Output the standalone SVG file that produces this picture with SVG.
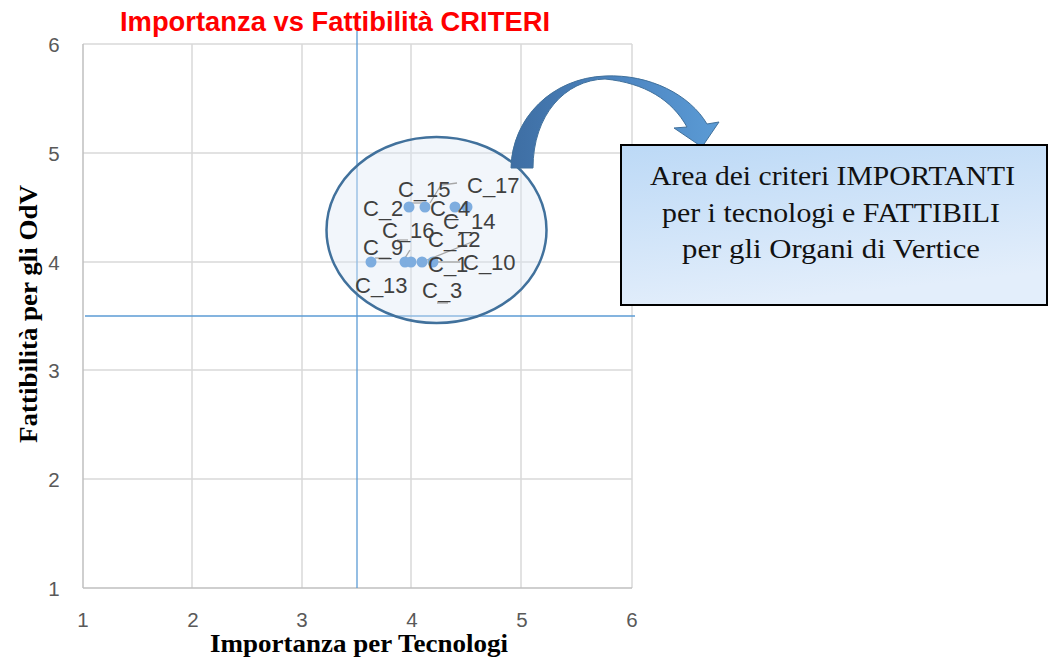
<svg xmlns="http://www.w3.org/2000/svg" width="1051" height="662" viewBox="0 0 1051 662">
<style>
.grid{stroke:#d9d9d9;stroke-width:1.5;fill:none}
.axis{stroke:#bfbfbf;stroke-width:1.5;fill:none}
.tick{font-family:"Liberation Sans",Arial,sans-serif;font-size:20.5px;fill:#595959;text-anchor:middle}
.atitle{font-family:"Liberation Serif","Times New Roman",serif;font-size:26px;font-weight:bold;fill:#000;text-anchor:middle}
.thr{stroke:#5b9bd5;stroke-width:1.3;fill:none}
.pt{fill:#7eaddf}
.lbl{font-family:"Liberation Sans",Arial,sans-serif;font-size:22px;fill:#404040}
.lead{stroke:#a6a6a6;stroke-width:1.3;fill:none}
.box{font-family:"Liberation Serif","Times New Roman",serif;font-size:27px;fill:#111;text-anchor:middle}
</style>
<defs>
<linearGradient id="boxg" x1="0" y1="0" x2="0.3" y2="1">
<stop offset="0" stop-color="#bcd9f6"/>
<stop offset="1" stop-color="#e3eefb"/>
</linearGradient>
<linearGradient id="arrg" x1="0" y1="0" x2="1" y2="0">
<stop offset="0" stop-color="#3e6ea3"/>
<stop offset="0.55" stop-color="#4d86c2"/>
<stop offset="1" stop-color="#5b9bd5"/>
</linearGradient>
</defs>
<rect width="1051" height="662" fill="#ffffff"/>

<g id="title">
<text x="335" y="31" font-family="Liberation Sans,Arial,sans-serif" font-size="27" font-weight="bold" fill="#ff0000" text-anchor="middle" textLength="430" lengthAdjust="spacingAndGlyphs">Importanza vs Fattibilità CRITERI</text>
</g>

<g id="gridlines">
<line class="grid" x1="192" y1="44" x2="192" y2="588"/>
<line class="grid" x1="302" y1="44" x2="302" y2="588"/>
<line class="grid" x1="411" y1="44" x2="411" y2="588"/>
<line class="grid" x1="521" y1="44" x2="521" y2="588"/>
<line class="grid" x1="632" y1="44" x2="632" y2="588"/>
<line class="grid" x1="83" y1="44" x2="632" y2="44"/>
<line class="grid" x1="83" y1="153" x2="632" y2="153"/>
<line class="grid" x1="83" y1="262" x2="632" y2="262"/>
<line class="grid" x1="83" y1="370" x2="632" y2="370"/>
<line class="grid" x1="83" y1="479" x2="632" y2="479"/>
<line class="axis" x1="83" y1="44" x2="83" y2="588"/>
<line class="axis" x1="83" y1="588" x2="632" y2="588"/>
</g>

<g id="ticks">
<text class="tick" x="54" y="51.5">6</text>
<text class="tick" x="54" y="160.5">5</text>
<text class="tick" x="54" y="269.5">4</text>
<text class="tick" x="54" y="377.5">3</text>
<text class="tick" x="54" y="486.5">2</text>
<text class="tick" x="54" y="595.5">1</text>
<text class="tick" x="83" y="627">1</text>
<text class="tick" x="193" y="627">2</text>
<text class="tick" x="302" y="627">3</text>
<text class="tick" x="412" y="627">4</text>
<text class="tick" x="522" y="627">5</text>
<text class="tick" x="632" y="627">6</text>
</g>

<g id="axis-titles">
<text class="atitle" x="359" y="652" textLength="298" lengthAdjust="spacingAndGlyphs">Importanza per Tecnologi</text>
<text class="atitle" transform="translate(37,314) rotate(-90)" x="0" y="0" textLength="258" lengthAdjust="spacingAndGlyphs">Fattibilità per gli OdV</text>
</g>

<g id="thresholds">
<line class="thr" x1="85" y1="316" x2="635" y2="316"/>
<line class="thr" x1="357" y1="31" x2="357" y2="588"/>
</g>

<g id="area-ellipse">
<ellipse cx="436.5" cy="230" rx="110" ry="93" fill="#dfe9f6" fill-opacity="0.4" stroke="#41719c" stroke-width="2.5"/>
</g>

<g id="connectors">
<polyline class="lead" points="430,203 441,185 457,183"/>
<line class="lead" x1="411" y1="203" x2="425" y2="203"/>
<line class="lead" x1="375" y1="258" x2="390" y2="258"/>
<line class="lead" x1="397" y1="240" x2="408" y2="240"/>
<line class="lead" x1="405" y1="258" x2="410" y2="250"/>
<line class="lead" x1="422" y1="262" x2="477" y2="240"/>
<line class="lead" x1="438" y1="262" x2="460" y2="262"/>
<line class="lead" x1="437" y1="303" x2="448" y2="303"/>
<path id="curved-arrow" d="M 511,168 C 512,118 552,78 605,76 C 650,74 690,95 707,124 L 719,122 L 702,147 L 674,128 L 687,127 C 672,100 645,83 605,79 C 565,80 533,115 533,168 Z" fill="url(#arrg)" stroke="#41719c" stroke-width="1"/>
</g>

<g id="points">
<circle class="pt" cx="409" cy="207" r="5.5"/>
<circle class="pt" cx="425" cy="207" r="5.5"/>
<circle class="pt" cx="455" cy="207" r="5.5"/>
<circle class="pt" cx="467" cy="207" r="5.5"/>
<circle class="pt" cx="371" cy="262" r="5.5"/>
<circle class="pt" cx="405" cy="262" r="5.5"/>
<circle class="pt" cx="411" cy="262" r="5.5"/>
<circle class="pt" cx="422" cy="262" r="5.5"/>
<circle class="pt" cx="433" cy="262" r="5.5"/>
</g>

<g id="labels">
<text class="lbl" x="398" y="197">C_15</text>
<text class="lbl" x="467" y="193">C_17</text>
<text class="lbl" x="363" y="216">C_2</text>
<text class="lbl" x="430" y="216">C_4</text>
<text class="lbl" x="443" y="229">C_14</text>
<text class="lbl" x="382" y="238">C_16</text>
<text class="lbl" x="428" y="247">C_12</text>
<text class="lbl" x="363" y="255">C_9</text>
<text class="lbl" x="428" y="272">C_1</text>
<text class="lbl" x="463" y="270">C_10</text>
<text class="lbl" x="355" y="293">C_13</text>
<text class="lbl" x="422" y="298">C_3</text>
</g>

<g id="note-box">
<rect x="621" y="145" width="426" height="160" fill="url(#boxg)" stroke="#000" stroke-width="2"/>
<text class="box" x="832.5" y="185" textLength="365" lengthAdjust="spacingAndGlyphs">Area dei criteri IMPORTANTI</text>
<text class="box" x="831" y="222" textLength="338" lengthAdjust="spacingAndGlyphs">per i tecnologi e FATTIBILI</text>
<text class="box" x="831" y="258" textLength="298" lengthAdjust="spacingAndGlyphs">per gli Organi di Vertice</text>
</g>
</svg>
